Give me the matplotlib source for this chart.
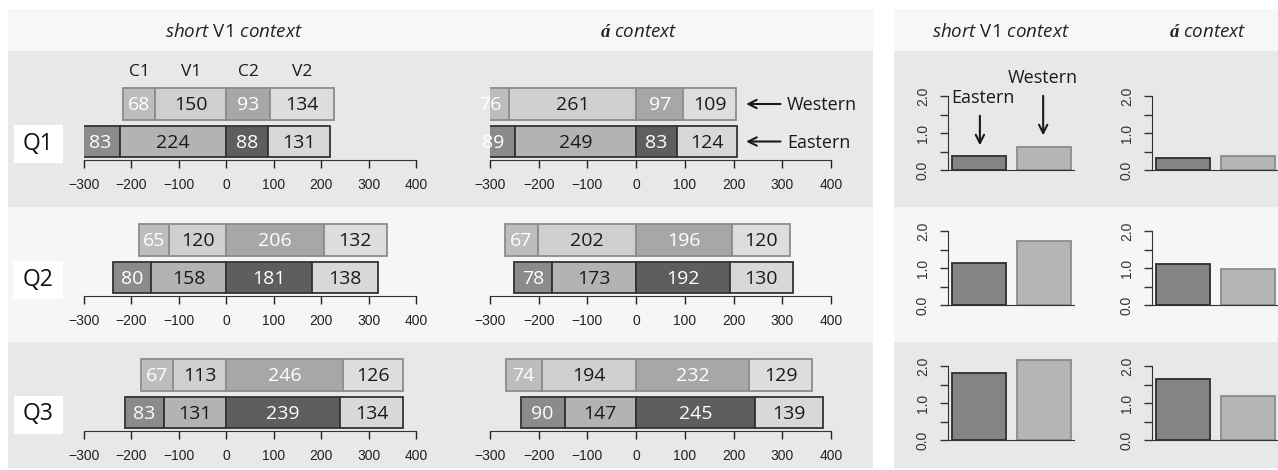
import matplotlib
matplotlib.use("Agg")
import matplotlib.pyplot as plt
from matplotlib.patches import Rectangle

plt.rcParams['font.family'] = ['Liberation Sans', 'DejaVu Sans']
plt.rcParams['mathtext.fontset'] = 'custom'
plt.rcParams['mathtext.it'] = 'Open Sans:italic'
plt.rcParams['mathtext.rm'] = 'Open Sans'
plt.rcParams['mathtext.bf'] = 'Liberation Serif:italic:bold'

W, H = 1278, 470

rows = ["Q1", "Q2", "Q3"]
segments = ["C1", "V1", "C2", "V2"]
contexts = [r"$\mathit{short}$ V1 $\mathit{context}$", r"$\mathbf{á}$ $\mathit{context}$"]
ticks = [-300, -200, -100, 0, 100, 200, 300, 400]

# segment durations per question: C1, V1, C2, V2
short_western = [[68, 150, 93, 134], [65, 120, 206, 132], [67, 113, 246, 126]]
short_eastern = [[83, 224, 88, 131], [80, 158, 181, 138], [83, 131, 239, 134]]
a_western = [[76, 261, 97, 109], [67, 202, 196, 120], [74, 194, 232, 129]]
a_eastern = [[89, 249, 83, 124], [78, 173, 192, 130], [90, 147, 245, 139]]

# ratios shown in the small bar charts on the right
ratio_short_eastern = [0.39, 1.14, 1.82]
ratio_short_western = [0.61, 1.73, 2.17]
ratio_a_eastern = [0.32, 1.10, 1.66]
ratio_a_western = [0.37, 0.97, 1.18]

west_fill = ['#bdbdbf', '#cfcfd1', '#a7a7a9', '#dddddf']
east_fill = ['#8b8b8d', '#b3b3b5', '#5e5e60', '#d8d8da']
seg_text = ['white', '#1a1a1a', 'white', '#1a1a1a']

fig = plt.figure(figsize=(W / 100, H / 100), dpi=100)


def px_axes(left, top, right, bottom):
    ax = fig.add_axes([left / W, 1 - bottom / H, (right - left) / W, (bottom - top) / H])
    ax.patch.set_visible(False)
    return ax


def px_rect(left, top, right, bottom, color, z=-10):
    fig.add_artist(Rectangle((left / W, 1 - bottom / H), (right - left) / W, (bottom - top) / H,
                             transform=fig.transFigure, facecolor=color, edgecolor='none', zorder=z))


# background bands
band_edges = [9, 51, 207, 342, 468]
band_colors = ['#f7f7f7', '#e8e8ea', '#f6f6f6', '#e8e8ea']
for i, c in enumerate(band_colors):
    px_rect(8, band_edges[i], 873, band_edges[i + 1], c)
    px_rect(894, band_edges[i], 1278, band_edges[i + 1], c)

# column headers
for x, label in zip([234, 639, 1001, 1208], contexts * 2):
    fig.text(x / W, 1 - 32 / H, label, ha='center', va='center', fontsize=13.5,
             family='Open Sans', color='#222222')

row_center = [141.5, 277.5, 412.5]   # eastern bar centre in px
ratio_zero = [170, 305, 440]         # y=0 of small bar charts in px
unit = 37.5


def draw_durations(ax, west, east):
    for y, vals, fills, edge in [(1, west, west_fill, '#8c8c8c'), (0, east, east_fill, '#333333')]:
        c1, v1, c2, v2 = vals
        lefts = [-(c1 + v1), -v1, 0, c2]
        ax.barh(y, vals, left=lefts, height=0.84, color=fills, edgecolor=edge, linewidth=1.3)
        for l, w, tc in zip(lefts, vals, seg_text):
            ax.text(l + w / 2, y - 0.03, str(w), ha='center', va='center', fontsize=14,
                    family='Open Sans', color=tc)
    ax.set_xlim(-300, 400)
    ax.set_ylim(-0.5, 1.5)
    for s in ['top', 'right', 'left']:
        ax.spines[s].set_visible(False)
    ax.spines['bottom'].set_bounds(-300, 400)
    ax.spines['bottom'].set_color('#333333')
    ax.set_xticks(ticks)
    ax.set_yticks([])
    ax.tick_params(axis='x', direction='out', length=6, width=1, pad=7, labelsize=10,
                   colors='#222222')


def draw_ratio(ax, e, w):
    ax.bar([0.7, 1.9], [e, w], width=1, color=['#848486', '#b5b5b7'],
           edgecolor=['#2e2e2e', '#8c8c8c'], linewidth=1.3, clip_on=False)
    ax.set_xlim(0.13, 2.46)
    ax.set_ylim(0, 2)
    ax.spines['top'].set_visible(False)
    ax.spines['right'].set_visible(False)
    ax.spines['left'].set_bounds(0, 2)
    ax.spines['left'].set_color('#333333')
    ax.spines['bottom'].set_color('#333333')
    ax.set_xticks([])
    ax.set_yticks([0, 0.5, 1, 1.5, 2])
    ax.set_yticklabels(['0.0', '', '1.0', '', '2.0'], rotation=90, va='center')
    ax.tick_params(axis='y', direction='out', length=6, width=1, pad=7, labelsize=10,
                   colors='#333333')


for r, q in enumerate(rows):
    c = row_center[r]
    ax_s = px_axes(84, c - 1.5 * unit, 416, c + 0.5 * unit)
    draw_durations(ax_s, short_western[r], short_eastern[r])
    ax_a = px_axes(490, c - 1.5 * unit, 831, c + 0.5 * unit)
    draw_durations(ax_a, a_western[r], a_eastern[r])

    # question label in a white box
    px_rect(14, c - 17, 63, c + 21, 'white', z=-5)
    fig.text(38.5 / W, 1 - (c + 2) / H, q, ha='center', va='center', fontsize=16.5,
             family='Open Sans', color='#111111')

    z = ratio_zero[r]
    ax_rs = px_axes(948, z - 74, 1074, z)
    draw_ratio(ax_rs, ratio_short_eastern[r], ratio_short_western[r])
    ax_ra = px_axes(1152, z - 74, 1278, z)
    draw_ratio(ax_ra, ratio_a_eastern[r], ratio_a_western[r])

    if r == 0:
        # segment names above the first bars
        c1, v1, c2, v2 = short_western[0]
        lefts = [-(c1 + v1), -v1, 0, c2]
        for l, w, name in zip(lefts, short_western[0], segments):
            ax_s.text(l + w / 2, 1.85, name, ha='center', va='center', fontsize=12.5,
                      family='Open Sans', color='#1a1a1a')
        # dialect pointers
        arrow = dict(arrowstyle='->,head_length=0.6,head_width=0.3', lw=1.5, color='#1a1a1a')
        for y, name in [(1, 'Western'), (0, 'Eastern')]:
            ax_a.annotate('', xy=(220, y), xytext=(302, y), arrowprops=arrow)
            ax_a.text(310, y - 0.03, name, ha='left', va='center', fontsize=13,
                      family='Open Sans', color='#1a1a1a')
        ax_rs.annotate('', xy=(0.72, 0.59), xytext=(0.72, 1.54), arrowprops=arrow)
        ax_rs.annotate('', xy=(1.89, 0.86), xytext=(1.89, 2.08), arrowprops=arrow)
        ax_rs.text(0.78, 1.95, 'Eastern', ha='center', va='center', fontsize=13,
                   family='Open Sans', color='#1a1a1a')
        ax_rs.text(1.89, 2.49, 'Western', ha='center', va='center', fontsize=13,
                   family='Open Sans', color='#1a1a1a')

fig.savefig('out.png', dpi=100)
